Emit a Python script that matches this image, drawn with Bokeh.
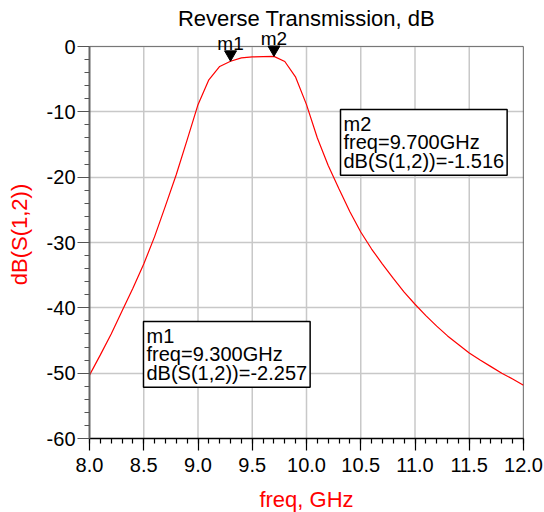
from bokeh.plotting import figure
from bokeh.models import Label, Range1d, FixedTicker, NumeralTickFormatter
from bokeh.embed import file_html
from bokeh.resources import INLINE
from bokeh.core.properties import value

# ---- data ----
freq = [8.0, 8.1, 8.2, 8.3, 8.4, 8.5, 8.6, 8.7, 8.8, 8.9,
        9.0, 9.1, 9.2, 9.3, 9.4, 9.5, 9.6, 9.7, 9.8, 9.9,
        10.0, 10.1, 10.2, 10.3, 10.4, 10.5, 10.6, 10.7, 10.8, 10.9,
        11.0, 11.1, 11.2, 11.3, 11.4, 11.5, 11.6, 11.7, 11.8, 11.9, 12.0]
s12_db = [-50.3, -47.2, -44.0, -40.5, -37.0, -33.3, -29.1, -24.4, -19.6, -14.3,
          -8.9, -5.1, -3.05, -2.257, -1.75, -1.6, -1.55, -1.516, -2.3, -4.7,
          -8.9, -14.0, -18.2, -21.8, -25.3, -28.4, -31.0, -33.3, -35.5, -37.6,
          -39.45, -41.2, -42.8, -44.3, -45.6, -46.9, -48.0, -49.0, -50.0, -50.9, -51.85]
marker_names = ["m1", "m2"]
marker_freq = [9.3, 9.7]
marker_val = [-2.257, -1.516]
x_ticks = [8.0, 8.5, 9.0, 9.5, 10.0, 10.5, 11.0, 11.5, 12.0]
y_ticks = [0, -10, -20, -30, -40, -50, -60]

FONT = "Liberation Sans"
FW, FH = 434, 392          # plotting box (-60..0 dB) in px
TOP_PAD = 16               # extra px above 0 dB so marker labels are not clipped
XMIN, XMAX, YMIN, YMAX = 8.0, 12.0, -60.0, 0.0
px_per_db = FH / (YMAX - YMIN)
y_top = YMAX + TOP_PAD / px_per_db

p = figure(frame_width=FW, frame_height=FH + TOP_PAD,
           x_range=Range1d(XMIN, XMAX), y_range=Range1d(YMIN, y_top),
           output_backend="svg", toolbar_location=None,
           min_border_left=89, min_border_right=21,
           min_border_top=30, min_border_bottom=74)

p.title.text = "Reverse Transmission, dB"
p.title.align = "center"
p.title.text_font = FONT
p.title.text_font_size = "22px"
p.title.text_font_style = "normal"
p.title.text_color = "black"
p.title.standoff = 0

p.outline_line_color = None
p.background_fill_color = "white"
p.border_fill_color = "white"

for ax in (p.xaxis, p.yaxis):
    ax.major_tick_out = 12
    ax.major_tick_in = 0
    ax.minor_tick_out = 5
    ax.minor_tick_in = 0
    ax.major_label_text_font = FONT
    ax.major_label_text_font_size = "20px"
    ax.major_label_text_color = "black"
    ax.axis_label_text_font = FONT
    ax.axis_label_text_font_size = "22px"
    ax.axis_label_text_font_style = "normal"
    ax.axis_label_text_color = "#ff0000"

p.xaxis.ticker = FixedTicker(ticks=x_ticks, minor_ticks=[round(8.0 + 0.1 * i, 1) for i in range(41)])
p.yaxis.ticker = FixedTicker(ticks=y_ticks, minor_ticks=list(range(-60, 1, 2)))
p.yaxis.bounds = (YMIN, YMAX)
p.xaxis.formatter = NumeralTickFormatter(format="0.0")
p.yaxis.formatter = NumeralTickFormatter(format="0")
p.xaxis.axis_label = "freq, GHz"
p.yaxis.axis_label = "dB(S(1,2))"
p.xaxis.major_label_standoff = 7
p.yaxis.major_label_standoff = 2
p.xaxis.axis_label_standoff = 12
p.yaxis.axis_label_standoff = 12

p.xaxis.axis_line_color = "black"
p.xaxis.axis_line_width = 1.5
p.xaxis.major_tick_line_color = "black"
p.xaxis.minor_tick_line_color = "black"
p.xaxis.major_tick_line_width = 1.2
p.xaxis.minor_tick_line_width = 1.2
p.yaxis.axis_line_color = "#666666"
p.yaxis.axis_line_width = 2
p.yaxis.major_tick_line_color = "#555555"
p.yaxis.minor_tick_line_color = "#555555"
p.yaxis.major_tick_line_width = 1.2
p.yaxis.minor_tick_line_width = 1.2

# grid: horizontal via Grid, vertical drawn only inside -60..0
p.xgrid.visible = False
p.ygrid.ticker = FixedTicker(ticks=y_ticks)
p.ygrid.grid_line_color = "#c8c8c8"
p.ygrid.grid_line_width = 1.5
inner_x = x_ticks[1:-1]
p.segment(x0=inner_x, y0=[YMIN] * len(inner_x), x1=inner_x, y1=[YMAX] * len(inner_x),
          line_color="#c8c8c8", line_width=1.5, level="underlay")

# plot box top (gray) and right (black) edges
p.segment(x0=[XMIN], y0=[YMAX], x1=[XMAX], y1=[YMAX], line_color="#777777", line_width=1.2)
p.segment(x0=[XMAX], y0=[YMIN], x1=[XMAX], y1=[YMAX], line_color="black", line_width=1.2)

p.line(freq, s12_db, line_color="#ff0000", line_width=1.2)

# marker triangles: tip on the data point
TRI = 12
tri_y = [v + 0.577 * TRI / px_per_db for v in marker_val]
p.scatter(marker_freq, tri_y, marker="inverted_triangle", size=TRI,
          fill_color="black", line_color="black")
p.text(marker_freq, marker_val, text=marker_names, text_align="center",
       text_baseline="alphabetic", y_offset=-18, text_font=value(FONT),
       text_font_size="19px", text_color="black")

# marker readout boxes (screen position relative to frame bottom-left)
box_pos = [(54, 117), (251, 329)]
for name, f, v, (bx, by) in zip(marker_names, marker_freq, marker_val, box_pos):
    txt = f"{name}\nfreq={f:.3f}GHz\ndB(S(1,2))={v:.3f}"
    p.add_layout(Label(x=bx, y=by, x_units="screen", y_units="screen", text=txt,
                       text_font=FONT, text_font_size="20px", text_line_height=0.86,
                       text_align="left", text_baseline="top", text_color="black",
                       border_line_color="black", border_line_width=1.5,
                       background_fill_color="white", padding=3))

open("out.html", "w").write(file_html(p, INLINE))
